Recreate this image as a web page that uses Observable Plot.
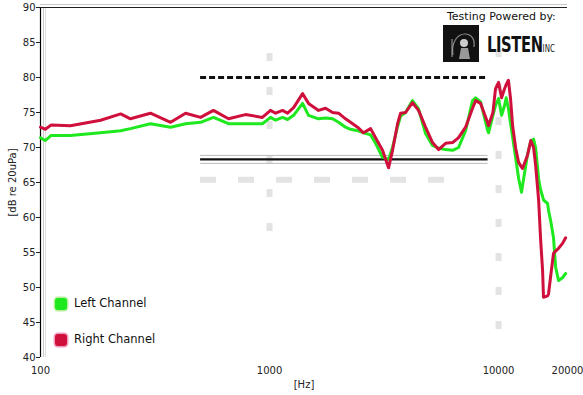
<!DOCTYPE html>
<html>
<head>
<meta charset="utf-8">
<script src="https://cdn.jsdelivr.net/npm/d3@7"></script>
<script src="https://cdn.jsdelivr.net/npm/@observablehq/plot@0.6"></script>
<style>
  html, body { margin: 0; padding: 0; background: #fff; }
  #wrap { position: relative; width: 583px; height: 395px; overflow: hidden; font-family: "DejaVu Sans", sans-serif; }
  .ov { position: absolute; white-space: nowrap; color: #111; }
  .sw { position: absolute; width: 12px; height: 12px; border-radius: 3px; }
</style>
</head>
<body>
<div id="wrap"></div>
<script>
const freq = [100,105,111,135,183,224,247,302,370,430,500,569,662,785,931,1010,1063,1140,1199,1274,1394,1480,1637,1757,1885,2002,2147,2258,2423,2572,2762,2904,3114,3309,3445,3623,3734,3926,4210,4474,4800,5148,5471,5870,6300,6690,7180,7700,7940,8350,8950,9040,9450,9700,10000,10310,10620,10800,11040,11280,11520,11880,12230,12600,12720,13380,13830,14220,14520,14960,15250,15570,15710,16370,16530,16870,17380,17750,18280,19030,19630];
const rightCh = [72.9,72.6,73.2,73.1,73.9,74.8,74.1,74.9,73.6,74.9,74.3,75.3,74.1,74.7,74.3,75.3,74.9,75.3,74.9,75.7,77.7,76.3,75.3,75.6,75.0,74.9,74.1,73.6,72.9,72.1,72.7,71.4,69.6,67.1,69.6,73.4,74.9,75.0,76.4,75.3,72.9,70.7,69.7,70.6,70.7,71.4,72.9,75.6,76.7,76.3,73.6,73.1,75.0,78.4,79.3,77.1,78.4,79.0,79.6,77.0,73.1,69.9,67.9,67.2,67.0,68.9,71.0,70.0,67.4,62.5,57.1,52.4,48.6,48.8,49.1,51.5,54.9,55.2,55.6,56.3,57.1];
const leftCh = [71.4,71.0,71.7,71.7,72.1,72.4,72.7,73.4,72.9,73.4,73.6,74.3,73.4,73.4,73.4,74.3,73.9,74.3,74.0,74.6,76.3,74.6,74.1,74.2,74.1,73.6,72.9,72.6,72.4,72.1,71.8,70.6,68.6,68.3,70.0,73.0,74.5,75.0,76.7,75.5,72.0,70.3,69.9,69.7,69.6,70.0,72.4,76.7,77.1,76.5,72.5,72.1,74.6,76.0,77.0,74.6,76.0,77.1,75.6,73.5,71.5,68.5,65.6,63.6,64.5,69.0,70.9,71.2,69.9,65.5,64.0,63.0,62.5,62.0,61.0,59.6,57.1,52.9,51.0,51.4,52.0];
const yTicks = [40,45,50,55,60,65,70,75,80,85,90];
const xTicks = [100,1000,10000,20000];
const refFreq = [500, 9000];
const upperRef = 80;
const lowerRef = 68.3;
const seriesNames = ["Left Channel", "Right Channel"];
const seriesColors = ["#1ee81e", "#d0103c"];

const rows = freq.map((f, i) => ({f, v: leftCh[i], s: seriesNames[0]}));
const rowsR = freq.map((f, i) => ({f, v: rightCh[i], s: seriesNames[1]}));

const chart = Plot.plot({
  width: 583, height: 395,
  marginLeft: 40, marginRight: 16, marginTop: 7, marginBottom: 38,
  style: {fontFamily: "DejaVu Sans, sans-serif", background: "#fff", color: "#222"},
  x: {type: "log", domain: [100, 20000]},
  y: {domain: [40, 90]},
  marks: [
    // faint grid remnants
    Plot.ruleX([1000], {stroke: "#e3e3e3", strokeWidth: 6, strokeDasharray: "8,26", y1: 58, y2: 86}),
    Plot.ruleX([10000], {stroke: "#e3e3e3", strokeWidth: 6, strokeDasharray: "8,26", y1: 44, y2: 86}),
    Plot.ruleY([65.4], {stroke: "#e3e3e3", strokeWidth: 6, strokeDasharray: "16,22", x1: 500, x2: 6000}),
    // frame
    Plot.ruleX([100], {stroke: "#c8c8c8", dx: 3}),
    Plot.ruleX([100], {stroke: "#dddddd", dx: 5}),
    Plot.ruleY([90], {stroke: "#c8c8c8", dy: -3}),
    Plot.ruleX([100], {stroke: "#000", strokeWidth: 1.2}),
    Plot.ruleY([90], {stroke: "#222", strokeWidth: 1.2}),
    // reference lines
    Plot.ruleY([upperRef], {x1: refFreq[0], x2: refFreq[1], stroke: "#111", strokeWidth: 3, strokeDasharray: "6,3"}),
    Plot.ruleY([lowerRef], {x1: refFreq[0], x2: refFreq[1], stroke: "#bbb", strokeWidth: 1, dy: -4}),
    Plot.ruleY([lowerRef], {x1: refFreq[0], x2: refFreq[1], stroke: "#bbb", strokeWidth: 1, dy: 4}),
    Plot.ruleY([lowerRef], {x1: refFreq[0], x2: refFreq[1], stroke: "#111", strokeWidth: 2.2}),
    // curves
    Plot.line(rows, {x: "f", y: "v", stroke: seriesColors[0], strokeWidth: 3}),
    Plot.line(rowsR, {x: "f", y: "v", stroke: seriesColors[1], strokeWidth: 3}),
    // axes
    Plot.axisY({ticks: yTicks, tickSize: 4, tickPadding: 1, fontSize: 10, label: "[dB re 20uPa]", labelAnchor: "center", labelOffset: 32, labelArrow: "none"}),
    Plot.axisX({ticks: xTicks, tickFormat: d => String(d), tickSize: 0, tickPadding: 9, fontSize: 10, label: "[Hz]", labelAnchor: "center", labelOffset: 30, labelArrow: "none"})
  ]
});

const wrap = document.getElementById("wrap");
wrap.appendChild(chart);

// legend
const leg = [
  {name: seriesNames[0], color: seriesColors[0], border: "#b8f0a0", top: 298},
  {name: seriesNames[1], color: seriesColors[1], border: "#f3a0c0", top: 334}
];
leg.forEach(l => {
  const sw = document.createElement("div");
  sw.className = "sw";
  sw.style.left = "55px"; sw.style.top = l.top + "px";
  sw.style.background = l.color; sw.style.boxShadow = "0 0 0 1.5px " + l.border;
  wrap.appendChild(sw);
  const t = document.createElement("div");
  t.className = "ov";
  t.style.left = "74px"; t.style.top = (l.top - 2) + "px";
  t.style.fontSize = "11.5px";
  t.textContent = l.name;
  wrap.appendChild(t);
});

// logo
const tp = document.createElement("div");
tp.className = "ov";
tp.style.left = "447px"; tp.style.top = "10px"; tp.style.fontSize = "11px";
tp.textContent = "Testing Powered by:";
wrap.appendChild(tp);
const box = document.createElement("div");
box.style.cssText = "position:absolute;left:443px;top:25px;width:36px;height:37px;background:#111;overflow:hidden;";
box.innerHTML = '<svg width="36" height="37"><path d="M10 30 C8 18 14 9 22 9 C29 9 32 15 31 22" fill="none" stroke="#888" stroke-width="1.2"/><circle cx="21" cy="18" r="4" fill="#ccc"/><path d="M16 34 L18 23 L25 23 L27 34" fill="#999"/><path d="M9 14 L9 32" stroke="#aaa" stroke-width="1"/></svg>';
wrap.appendChild(box);
const ls = document.createElement("div");
ls.className = "ov";
ls.style.cssText += "left:487px;top:33px;font-family:'Liberation Sans Narrow','DejaVu Sans Condensed',sans-serif;font-weight:bold;font-size:21px;letter-spacing:-0.5px;transform:scaleX(0.78);transform-origin:left top;color:#111;";
ls.innerHTML = 'LISTEN<span style="font-size:10px;font-weight:normal;letter-spacing:0">INC</span>';
wrap.appendChild(ls);
</script>
</body>
</html>
